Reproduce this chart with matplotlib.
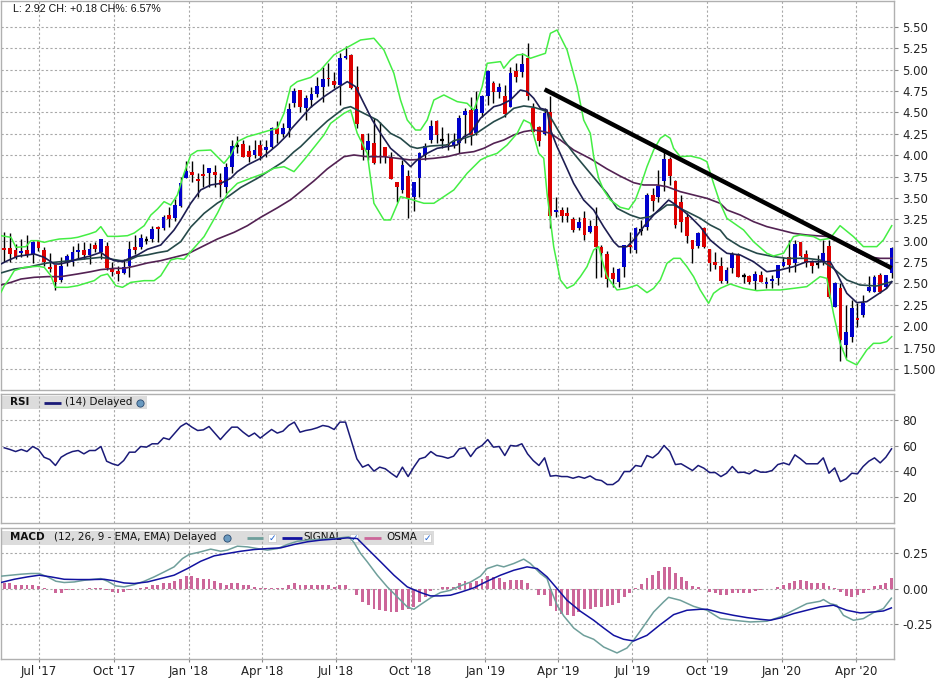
import datetime as dt
import matplotlib
matplotlib.use('Agg')
import matplotlib.pyplot as plt
import matplotlib.dates as mdates
from matplotlib.patches import Rectangle
import numpy as np

# ---------------- data ----------------
first_week = dt.date(2017, 5, 19)
n_weeks = 157

opens = [2.915, 2.915, 2.892, 2.860, 2.892, 2.841, 2.997, 2.892, 2.697, 2.716,
         2.541, 2.755, 2.755, 2.864, 2.892, 2.833, 2.950, 2.872, 2.942, 2.677,
         2.650, 2.626, 2.701, 2.927, 2.923, 3.014, 3.020, 3.157, 3.145, 3.301,
         3.262, 3.410, 3.738, 3.808, 3.722, 3.781, 3.789, 3.808, 3.711, 3.633,
         3.859, 4.112, 4.132, 4.050, 4.003, 4.120, 4.062, 4.101, 4.323, 4.245,
         4.315, 4.607, 4.763, 4.549, 4.646, 4.717, 4.802, 4.900, 4.869, 4.822,
         5.141, 5.173, 4.802, 4.249, 4.062, 4.147, 3.980, 4.100, 3.976, 3.691,
         3.594, 3.757, 3.508, 3.730, 4.003, 4.178, 4.401, 4.178, 4.132, 4.120,
         4.139, 4.471, 4.529, 4.256, 4.490, 4.693, 4.849, 4.744, 4.693, 4.568,
         4.985, 4.970, 5.134, 4.557, 4.334, 4.249, 4.510, 3.340, 3.360, 3.321,
         3.255, 3.145, 3.262, 3.106, 3.173, 2.931, 2.845, 2.627, 2.521, 2.697,
         2.950, 2.892, 3.120, 3.165, 3.535, 3.508, 3.703, 3.956, 3.699, 3.457,
         3.274, 3.009, 2.938, 3.145, 2.903, 2.755, 2.705, 2.529, 2.677, 2.845,
         2.590, 2.592, 2.529, 2.600, 2.494, 2.529, 2.568, 2.705, 2.814, 2.743,
         2.981, 2.845, 2.755, 2.724, 2.755, 2.942, 2.229, 2.443, 1.781, 1.878,
         2.100, 2.132, 2.416, 2.404, 2.599, 2.463, 2.619]
highs = [3.098, 3.090, 2.962, 3.020, 3.067, 3.001, 3.009, 2.923, 2.857, 2.716,
         2.806, 2.845, 2.942, 2.970, 2.981, 2.970, 2.981, 3.020, 2.981, 2.747,
         2.708, 2.786, 3.001, 3.067, 3.079, 3.059, 3.176, 3.176, 3.301, 3.391,
         3.488, 3.750, 3.937, 3.937, 3.789, 3.898, 3.850, 3.886, 3.789, 3.906,
         4.179, 4.225, 4.179, 4.120, 4.179, 4.179, 4.179, 4.335, 4.405, 4.374,
         4.607, 4.783, 4.763, 4.705, 4.802, 4.919, 5.036, 5.075, 4.978, 5.192,
         5.278, 5.180, 5.044, 4.250, 4.256, 4.432, 4.393, 4.100, 4.042, 3.691,
         3.945, 3.828, 3.691, 4.042, 4.147, 4.412, 4.412, 4.327, 4.256, 4.256,
         4.471, 4.549, 4.685, 4.756, 4.705, 4.997, 4.872, 4.841, 4.822, 5.036,
         5.075, 5.192, 5.317, 4.607, 4.340, 4.549, 4.693, 3.516, 3.399, 3.399,
         3.282, 3.282, 3.352, 3.243, 3.391, 2.950, 2.884, 2.689, 2.680, 2.955,
         3.100, 3.165, 3.243, 3.555, 3.613, 3.827, 4.042, 3.980, 3.710, 3.535,
         3.320, 3.010, 3.106, 3.165, 2.905, 2.872, 2.814, 2.690, 2.872, 2.853,
         2.619, 2.595, 2.646, 2.650, 2.580, 2.600, 2.720, 2.814, 3.009, 3.009,
         2.990, 2.892, 2.775, 2.833, 3.009, 3.009, 2.521, 2.510, 2.248, 2.307,
         2.276, 2.365, 2.588, 2.600, 2.619, 2.600, 2.925]
lows = [2.747, 2.747, 2.786, 2.806, 2.806, 2.740, 2.884, 2.708, 2.638, 2.428,
        2.513, 2.701, 2.708, 2.786, 2.786, 2.728, 2.864, 2.786, 2.662, 2.591,
        2.533, 2.611, 2.572, 2.845, 2.903, 2.962, 2.981, 2.981, 3.129, 3.157,
        3.235, 3.400, 3.730, 3.691, 3.516, 3.633, 3.633, 3.633, 3.516, 3.563,
        3.789, 4.030, 3.984, 3.925, 3.964, 3.945, 3.984, 4.081, 4.140, 4.218,
        4.218, 4.569, 4.510, 4.412, 4.568, 4.685, 4.627, 4.814, 4.783, 4.588,
        5.130, 4.780, 4.315, 3.945, 3.945, 3.898, 3.913, 3.906, 3.718, 3.457,
        3.555, 3.262, 3.352, 3.516, 3.945, 4.139, 4.147, 4.081, 4.062, 4.081,
        4.023, 4.139, 4.120, 4.237, 4.451, 4.588, 4.615, 4.666, 4.451, 4.560,
        4.861, 4.911, 4.646, 4.270, 4.108, 4.240, 3.145, 3.282, 3.223, 3.223,
        3.106, 3.126, 3.009, 3.087, 2.560, 2.580, 2.463, 2.463, 2.460, 2.572,
        2.860, 2.853, 3.070, 3.126, 3.348, 3.457, 3.586, 3.652, 3.145, 3.106,
        2.970, 2.743, 2.911, 2.911, 2.650, 2.666, 2.510, 2.510, 2.619, 2.572,
        2.502, 2.494, 2.424, 2.520, 2.444, 2.444, 2.482, 2.690, 2.638, 2.638,
        2.814, 2.697, 2.619, 2.685, 2.716, 2.326, 2.221, 1.597, 1.625, 1.820,
        1.995, 2.104, 2.400, 2.400, 2.385, 2.443, 2.560]
closes = [2.892, 2.845, 2.814, 2.884, 2.833, 2.981, 2.915, 2.755, 2.669, 2.521,
          2.708, 2.818, 2.864, 2.892, 2.833, 2.903, 2.903, 3.020, 2.677, 2.638,
          2.611, 2.697, 2.903, 2.896, 3.028, 3.014, 3.137, 3.137, 3.281, 3.254,
          3.418, 3.680, 3.816, 3.769, 3.703, 3.761, 3.847, 3.769, 3.652, 3.859,
          4.108, 4.112, 3.984, 3.984, 4.062, 3.995, 4.101, 4.315, 4.245, 4.323,
          4.541, 4.756, 4.568, 4.674, 4.717, 4.810, 4.888, 4.888, 4.822, 5.134,
          5.161, 4.783, 4.366, 4.062, 4.167, 3.913, 3.995, 3.976, 3.718, 3.625,
          3.886, 3.496, 3.691, 4.023, 4.108, 4.342, 4.237, 4.178, 4.120, 4.159,
          4.440, 4.522, 4.237, 4.537, 4.693, 4.989, 4.744, 4.802, 4.479, 4.966,
          4.919, 5.067, 4.693, 4.276, 4.171, 4.498, 3.290, 3.360, 3.290, 3.294,
          3.126, 3.223, 3.067, 3.173, 2.931, 2.853, 2.556, 2.549, 2.670, 2.950,
          2.930, 3.145, 3.120, 3.535, 3.469, 3.640, 3.952, 3.761, 3.184, 3.223,
          3.055, 2.900, 3.087, 2.931, 2.736, 2.716, 2.529, 2.658, 2.841, 2.580,
          2.590, 2.521, 2.611, 2.521, 2.521, 2.553, 2.716, 2.755, 2.716, 2.962,
          2.825, 2.736, 2.708, 2.724, 2.853, 2.346, 2.502, 1.839, 1.937, 2.209,
          2.073, 2.276, 2.463, 2.580, 2.397, 2.599, 2.920]

# indicator lines: (week number, value) pairs
bb_upper_w = [0.42, 2.18, 3.05, 4.81, 5.69, 6.86, 8.03, 9.20, 10.67, 12.71, 13.89, 15.94, 17.11,
              17.98, 19.16, 20.91, 22.67, 23.84, 25.60, 26.77, 27.94, 29.10, 30.27, 31.44, 32.61,
              33.79, 34.96, 37.30, 38.47, 39.64, 40.81, 41.98, 43.74, 45.50, 47.84, 49.01, 50.18,
              51.35, 52.52, 54.86, 56.62, 58.96, 61.01, 63.65, 65.99, 67.75, 69.50, 70.67, 71.85,
              73.31, 74.19, 75.36, 76.53, 78.29, 80.63, 82.38, 83.56, 85.02, 85.90, 88.24, 88.82,
              90.00, 91.17, 92.34, 93.51, 95.26, 96.14, 97.02, 98.19, 99.95, 101.71, 102.87,
              104.04, 104.63, 105.51, 106.38, 107.55, 109.31, 110.78, 111.95, 112.82, 114.00,
              115.17, 116.34, 117.22, 118.09, 118.68, 119.85, 121.61, 123.36, 124.53, 125.70,
              126.88, 128.05, 130.98, 132.73, 135.07, 136.24, 138.00, 139.76, 140.93, 143.27,
              144.44, 146.20, 147.95, 150.30, 152.05, 154.40, 155.57, 157.03]
bb_upper_v = [3.059, 3.040, 2.923, 2.931, 3.001, 3.001, 2.981, 3.001, 3.020, 3.028, 3.040, 3.079,
              3.106, 3.165, 3.051, 3.051, 3.059, 3.090, 3.176, 3.300, 3.371, 3.457, 3.418, 3.535,
              3.788, 4.003, 4.053, 4.061, 3.983, 3.905, 4.003, 4.159, 4.217, 4.249, 4.295, 4.315,
              4.490, 4.802, 4.861, 4.910, 4.997, 5.173, 5.251, 5.348, 5.368, 5.231, 4.958, 4.646,
              4.412, 4.295, 4.295, 4.412, 4.646, 4.705, 4.627, 4.607, 4.529, 4.802, 5.075, 5.095,
              5.017, 5.114, 5.173, 5.180, 5.134, 5.173, 5.192, 5.426, 5.465, 5.231, 4.802, 4.412,
              4.256, 3.983, 3.730, 3.593, 3.476, 3.391, 3.367, 3.476, 3.632, 3.866, 4.061, 4.198,
              4.237, 4.198, 4.081, 3.983, 3.991, 3.964, 3.925, 3.671, 3.437, 3.262, 3.126, 2.989,
              2.853, 2.822, 2.853, 3.048, 3.067, 3.048, 3.009, 3.028, 3.176, 3.048, 2.931, 2.931,
              3.009, 3.176]
bb_lower_w = [0.42, 1.01, 1.88, 2.76, 4.52, 6.86, 8.03, 9.20, 9.96, 12.13, 13.89, 16.81, 17.98,
              19.16, 20.62, 21.79, 23.25, 25.60, 27.35, 28.52, 30.27, 31.44, 32.61, 33.79, 36.13,
              38.47, 40.23, 41.98, 44.32, 46.67, 48.42, 50.18, 51.94, 53.69, 56.03, 57.20, 58.38,
              60.72, 61.89, 63.06, 64.82, 65.99, 67.75, 68.92, 70.67, 72.43, 74.77, 76.53, 78.29,
              80.04, 82.38, 84.73, 85.90, 87.65, 89.41, 91.17, 92.34, 93.51, 94.97, 95.85, 96.43,
              97.60, 98.77, 99.94, 101.11, 102.29, 103.46, 104.63, 105.51, 106.09, 106.97, 108.73,
              110.48, 112.24, 114.00, 115.17, 116.34, 117.51, 118.68, 119.85, 121.02, 122.19,
              123.36, 124.83, 125.70, 126.88, 128.63, 130.98, 133.32, 135.07, 137.42, 139.76,
              142.10, 144.44, 145.61, 146.78, 147.95, 149.13, 150.88, 152.64, 153.81, 154.98,
              156.15, 157.03]
bb_lower_v = [2.396, 2.474, 2.552, 2.650, 2.689, 2.701, 2.689, 2.591, 2.455, 2.455, 2.474, 2.533,
              2.591, 2.611, 2.474, 2.455, 2.513, 2.533, 2.533, 2.591, 2.775, 2.794, 2.783, 2.872,
              3.048, 3.321, 3.555, 3.671, 3.730, 3.788, 3.847, 3.866, 3.808, 3.944, 4.139, 4.237,
              4.373, 4.490, 4.529, 4.256, 4.022, 3.438, 3.243, 3.243, 3.516, 3.485, 3.438, 3.438,
              3.516, 3.594, 3.789, 3.945, 3.983, 4.022, 4.120, 4.256, 4.412, 4.373, 4.022, 3.964,
              3.554, 2.930, 2.541, 2.443, 2.482, 2.580, 2.697, 2.892, 2.930, 2.775, 2.580, 2.424,
              2.443, 2.482, 2.393, 2.443, 2.541, 2.736, 2.794, 2.794, 2.697, 2.580, 2.424, 2.268,
              2.385, 2.443, 2.494, 2.443, 2.416, 2.424, 2.424, 2.443, 2.463, 2.580, 2.560, 2.151,
              1.800, 1.605, 1.547, 1.722, 1.800, 1.800, 1.820, 1.878]
ma_fast_w = [0.42, 1.59, 3.35, 6.27, 8.03, 9.79, 10.67, 12.13, 13.89, 15.94, 17.98, 19.16, 20.33,
             21.79, 22.96, 24.42, 26.18, 28.52, 30.86, 32.03, 33.79, 35.54, 37.30, 39.05, 40.81,
             41.98, 43.74, 46.08, 47.25, 49.01, 50.76, 51.35, 53.11, 54.87, 57.21, 58.96, 61.31,
             62.77, 64.23, 65.70, 67.16, 68.92, 70.67, 72.43, 73.60, 75.36, 77.11, 78.87, 80.63,
             81.80, 82.97, 84.73, 87.07, 88.24, 90.00, 91.75, 92.92, 94.09, 95.26, 96.43, 97.02,
             98.19, 99.36, 101.11, 102.87, 104.63, 106.38, 108.14, 109.02, 110.48, 111.65, 113.41,
             115.17, 116.92, 117.80, 118.68, 119.85, 121.61, 123.36, 125.12, 126.88, 128.05,
             130.39, 132.73, 135.07, 137.42, 139.76, 142.10, 144.44, 146.20, 147.37, 149.13,
             150.88, 152.64, 154.40, 156.15, 157.03]
ma_fast_v = [2.728, 2.767, 2.818, 2.845, 2.806, 2.728, 2.728, 2.747, 2.786, 2.818, 2.864, 2.806,
             2.767, 2.755, 2.794, 2.833, 2.900, 2.950, 3.126, 3.243, 3.438, 3.594, 3.652, 3.671,
             3.730, 3.808, 3.886, 3.964, 4.022, 4.120, 4.237, 4.300, 4.430, 4.560, 4.685, 4.763,
             4.861, 4.802, 4.607, 4.412, 4.256, 4.081, 3.983, 3.867, 3.945, 4.023, 4.081, 4.101,
             4.120, 4.218, 4.256, 4.432, 4.568, 4.588, 4.646, 4.763, 4.744, 4.666, 4.549, 4.529,
             4.300, 4.100, 3.930, 3.671, 3.476, 3.359, 3.164, 2.989, 2.930, 2.930, 3.008, 3.164,
             3.301, 3.418, 3.476, 3.437, 3.379, 3.281, 3.164, 3.008, 2.911, 2.853, 2.833, 2.755,
             2.638, 2.658, 2.697, 2.755, 2.755, 2.755, 2.619, 2.385, 2.276, 2.287, 2.365, 2.443,
             2.521]
ma_mid_w = [0.42, 2.76, 5.10, 6.86, 8.62, 10.96, 15.06, 17.98, 19.74, 21.50, 22.67, 24.42, 26.18,
            27.94, 29.69, 32.03, 33.79, 36.13, 38.47, 40.23, 42.57, 45.50, 47.84, 50.18, 51.94,
            53.11, 55.45, 57.79, 60.72, 61.89, 64.23, 66.58, 68.92, 70.67, 72.43, 73.60, 75.94,
            78.87, 80.04, 81.80, 83.56, 85.31, 87.07, 88.82, 90.58, 92.34, 94.09, 95.26, 96.43,
            97.61, 99.36, 101.11, 104.04, 106.97, 108.73, 111.07, 112.82, 114.58, 116.34, 117.51,
            118.68, 121.02, 123.36, 125.12, 126.88, 128.05, 130.39, 133.32, 136.24, 138.59,
            142.10, 144.44, 146.78, 149.13, 151.47, 154.40, 157.03]
ma_mid_v = [2.623, 2.669, 2.689, 2.716, 2.740, 2.755, 2.786, 2.806, 2.786, 2.767, 2.767, 2.818,
            2.835, 2.860, 2.880, 2.989, 3.160, 3.320, 3.440, 3.510, 3.623, 3.730, 3.830, 3.930,
            4.040, 4.101, 4.256, 4.400, 4.549, 4.568, 4.490, 4.412, 4.256, 4.198, 4.101, 4.081,
            4.108, 4.120, 4.171, 4.198, 4.237, 4.315, 4.393, 4.451, 4.549, 4.576, 4.561, 4.537,
            4.510, 4.380, 4.178, 4.022, 3.788, 3.554, 3.379, 3.301, 3.262, 3.281, 3.359, 3.418,
            3.418, 3.340, 3.262, 3.184, 3.125, 3.028, 2.931, 2.853, 2.814, 2.794, 2.794, 2.775,
            2.677, 2.541, 2.482, 2.471, 2.521]
ma_slow_w = [0.42, 2.18, 3.93, 6.27, 8.62, 10.96, 13.89, 16.23, 17.98, 20.33, 22.08, 23.84, 26.18,
             28.52, 30.86, 33.21, 35.55, 38.48, 41.40, 43.75, 46.09, 49.02, 51.36, 53.11, 55.45,
             57.79, 60.72, 62.48, 64.82, 67.75, 70.09, 72.43, 74.19, 76.53, 78.87, 81.21, 83.56,
             85.31, 87.07, 88.82, 90.58, 92.34, 94.09, 95.85, 97.02, 98.77, 101.11, 104.04, 106.97,
             109.31, 111.65, 113.41, 115.75, 117.51, 119.85, 122.19, 124.53, 126.88, 128.05,
             130.39, 132.73, 135.07, 137.42, 139.76, 142.10, 144.44, 146.20, 147.95, 150.30,
             152.64, 154.98, 157.03]
ma_slow_v = [2.482, 2.513, 2.552, 2.572, 2.580, 2.580, 2.611, 2.638, 2.662, 2.677, 2.677, 2.701,
             2.740, 2.767, 2.806, 2.845, 2.923, 3.020, 3.098, 3.176, 3.274, 3.385, 3.480, 3.574,
             3.700, 3.840, 3.983, 4.003, 3.983, 3.983, 3.964, 3.945, 3.952, 3.964, 3.983, 4.022,
             4.042, 4.081, 4.140, 4.178, 4.237, 4.276, 4.295, 4.276, 4.256, 4.178, 4.061, 3.960,
             3.840, 3.755, 3.679, 3.652, 3.652, 3.632, 3.574, 3.535, 3.496, 3.437, 3.360, 3.301,
             3.223, 3.165, 3.126, 3.087, 3.067, 3.055, 3.048, 2.989, 2.892, 2.814, 2.794, 2.794]

trend_weeks = [96, 157]
trend_prices = [4.77, 2.68]

rsi = [58.3, 57.0, 55.4, 57.0, 55.4, 59.3, 57.0, 51.0, 49.2, 44.6,
       51.0, 53.6, 55.4, 56.2, 53.6, 56.2, 56.2, 59.3, 47.9, 45.9,
       44.6, 48.4, 54.9, 54.9, 59.3, 58.8, 61.4, 61.4, 66.0, 64.7,
       69.7, 74.8, 77.4, 74.3, 71.7, 72.2, 74.8, 69.7, 64.7, 69.7,
       74.3, 74.3, 70.4, 67.1, 69.7, 65.8, 69.1, 72.5, 69.7, 71.2,
       75.6, 78.2, 70.4, 71.7, 72.5, 73.8, 75.6, 74.8, 72.5, 78.2,
       78.2, 64.0, 49.7, 43.3, 45.3, 40.2, 43.3, 42.0, 38.6, 35.5,
       43.3, 36.0, 43.3, 49.7, 51.0, 55.4, 52.3, 51.5, 50.2, 51.8,
       57.5, 58.3, 51.5, 57.5, 60.1, 64.7, 58.8, 59.3, 52.3, 60.1,
       59.6, 61.4, 53.6, 48.4, 44.6, 50.5, 36.3, 36.8, 36.0, 36.0,
       34.7, 36.0, 34.7, 36.5, 33.7, 32.9, 29.8, 29.8, 32.9, 39.9,
       39.9, 44.6, 43.8, 52.3, 50.5, 54.1, 60.1, 55.4, 45.3, 45.9,
       43.3, 40.7, 44.6, 42.5, 39.1, 39.1, 36.0, 38.6, 43.8, 39.1,
       39.4, 38.1, 41.2, 39.4, 39.4, 40.7, 45.3, 46.6, 45.1, 52.8,
       49.7, 45.9, 45.9, 45.9, 50.5, 38.6, 42.7, 32.1, 34.2, 38.6,
       38.1, 43.8, 47.9, 50.5, 46.6, 51.0, 57.5]

macd_w = [0.42, 2.18, 3.93, 5.69, 7.15, 8.62, 10.08, 11.54, 13.30, 15.06, 16.81, 17.98, 19.16,
          20.62, 22.08, 23.84, 25.60, 27.35, 29.11, 30.86, 32.33, 33.50, 35.55, 37.30, 39.06,
          40.23, 41.99, 43.75, 45.50, 47.26, 49.02, 50.77, 52.53, 54.28, 56.63, 58.97, 60.72,
          61.60, 62.48, 63.65, 64.82, 66.58, 68.34, 70.09, 71.85, 73.02, 74.19, 75.95, 77.70,
          79.46, 81.22, 82.97, 84.72, 85.89, 87.65, 88.82, 90.58, 92.33, 93.50, 95.26, 96.43,
          97.02, 98.19, 99.36, 101.12, 102.87, 104.63, 106.39, 108.73, 110.48, 111.65, 113.12,
          115.17, 116.92, 117.80, 119.85, 122.19, 124.54, 126.88, 129.22, 132.15, 135.08,
          137.42, 139.76, 142.10, 144.44, 145.03, 146.20, 147.37, 148.54, 150.30, 152.05,
          153.81, 155.57, 156.97]
macd_v = [0.088, 0.095, 0.102, 0.107, 0.107, 0.083, 0.052, 0.043, 0.047, 0.059, 0.066, 0.071,
          0.052, 0.019, 0.012, 0.028, 0.052, 0.083, 0.118, 0.154, 0.213, 0.242, 0.261, 0.280,
          0.265, 0.273, 0.301, 0.296, 0.284, 0.273, 0.284, 0.313, 0.336, 0.344, 0.351, 0.355,
          0.363, 0.367, 0.327, 0.249, 0.190, 0.095, 0.012, -0.059, -0.130, -0.147, -0.114,
          -0.066, -0.028, -0.012, 0.020, 0.046, 0.088, 0.142, 0.166, 0.154, 0.178, 0.209, 0.178,
          0.107, 0.071, 0.000, -0.118, -0.194, -0.280, -0.332, -0.360, -0.415, -0.457, -0.422,
          -0.367, -0.284, -0.166, -0.095, -0.062, -0.083, -0.126, -0.154, -0.213, -0.225, -0.237,
          -0.232, -0.201, -0.154, -0.107, -0.090, -0.078, -0.107, -0.118, -0.190, -0.225, -0.213,
          -0.171, -0.142, -0.068]
signal_w = [0.42, 2.76, 5.10, 7.15, 9.20, 11.54, 13.89, 16.23, 18.57, 20.33, 22.08, 23.84, 26.18,
            28.52, 30.86, 33.21, 35.55, 37.89, 40.23, 42.57, 44.92, 47.26, 49.60, 51.94, 54.28,
            56.63, 58.97, 61.31, 63.07, 64.82, 67.17, 69.51, 71.85, 74.19, 75.95, 77.70, 79.46,
            81.22, 83.55, 85.89, 88.24, 90.58, 92.92, 94.68, 96.43, 98.19, 99.94, 102.29, 104.63,
            106.39, 108.14, 109.90, 111.65, 114.00, 116.34, 118.68, 121.02, 123.37, 124.54,
            126.88, 129.22, 131.56, 133.90, 135.66, 137.42, 139.76, 142.10, 144.44, 146.78,
            149.13, 151.47, 153.81, 155.57, 156.97]
signal_v = [0.043, 0.066, 0.083, 0.095, 0.083, 0.066, 0.064, 0.064, 0.066, 0.055, 0.040, 0.036,
            0.047, 0.071, 0.095, 0.142, 0.194, 0.232, 0.249, 0.265, 0.277, 0.284, 0.289, 0.313,
            0.332, 0.344, 0.351, 0.360, 0.355, 0.284, 0.190, 0.095, 0.012, -0.028, -0.052, -0.052,
            -0.047, -0.026, 0.005, 0.052, 0.095, 0.130, 0.154, 0.142, 0.083, 0.000, -0.083, -0.161,
            -0.225, -0.280, -0.332, -0.360, -0.372, -0.332, -0.256, -0.185, -0.154, -0.147,
            -0.147, -0.171, -0.190, -0.206, -0.218, -0.225, -0.209, -0.178, -0.154, -0.130,
            -0.118, -0.154, -0.173, -0.166, -0.159, -0.137]
osma = [0.040, 0.036, 0.024, 0.024, 0.024, 0.028, 0.019, 0.005, -0.005, -0.028,
        -0.028, -0.012, -0.007, -0.002, 0.000, 0.002, 0.005, 0.007, -0.007, -0.024,
        -0.031, -0.024, -0.012, -0.005, 0.005, 0.009, 0.024, 0.028, 0.036, 0.040,
        0.052, 0.066, 0.090, 0.088, 0.076, 0.066, 0.066, 0.052, 0.036, 0.024,
        0.040, 0.040, 0.028, 0.024, 0.014, 0.005, 0.002, 0.002, 0.002, 0.005,
        0.024, 0.040, 0.028, 0.028, 0.024, 0.024, 0.028, 0.024, 0.012, 0.028,
        0.028, 0.000, -0.043, -0.095, -0.118, -0.142, -0.149, -0.161, -0.166, -0.166,
        -0.154, -0.147, -0.130, -0.095, -0.059, -0.019, 0.000, 0.009, 0.009, 0.014,
        0.036, 0.055, 0.040, 0.052, 0.066, 0.090, 0.083, 0.076, 0.047, 0.059,
        0.059, 0.059, 0.040, 0.000, -0.043, -0.043, -0.123, -0.161, -0.178, -0.185,
        -0.194, -0.166, -0.147, -0.142, -0.130, -0.130, -0.126, -0.118, -0.100, -0.059,
        -0.028, 0.005, 0.033, 0.076, 0.095, 0.123, 0.154, 0.154, 0.111, 0.083,
        0.052, 0.019, 0.012, 0.000, -0.024, -0.028, -0.043, -0.043, -0.028, -0.028,
        -0.028, -0.028, -0.019, -0.012, -0.005, 0.000, 0.009, 0.024, 0.036, 0.052,
        0.059, 0.052, 0.043, 0.036, 0.043, 0.019, 0.005, -0.024, -0.055, -0.059,
        -0.047, -0.028, -0.007, 0.017, 0.024, 0.040, 0.076]

price_ticks = [1.50, 1.75, 2.00, 2.25, 2.50, 2.75, 3.00, 3.25, 3.50, 3.75,
               4.00, 4.25, 4.50, 4.75, 5.00, 5.25, 5.50]
price_labels = ['1.500', '1.750', '2.00', '2.25', '2.50', '2.75', '3.00', '3.25', '3.50',
                '3.75', '4.00', '4.25', '4.50', '4.75', '5.00', '5.25', '5.50']
rsi_ticks = [20, 40, 60, 80]
macd_ticks = [-0.25, 0.0, 0.25]
macd_labels = ['-0.25', '0.00', '0.25']
quarter_starts = [dt.date(2017, 7, 1), dt.date(2017, 10, 1), dt.date(2018, 1, 1),
                  dt.date(2018, 4, 1), dt.date(2018, 7, 1), dt.date(2018, 10, 1),
                  dt.date(2019, 1, 1), dt.date(2019, 4, 1), dt.date(2019, 7, 1),
                  dt.date(2019, 10, 1), dt.date(2020, 1, 1), dt.date(2020, 4, 1)]
quarter_labels = ["Jul '17", "Oct '17", "Jan '18", "Apr '18", "Jul '18", "Oct '18",
                  "Jan '19", "Apr '19", "Jul '19", "Oct '19", "Jan '20", "Apr '20"]
header_text = 'L: 2.92 CH: +0.18 CH%: 6.57%'

# ---------------- styling ----------------
UP = '#0000cc'
DOWN = '#dd0000'
BB_COL = '#44ee44'
FAST_COL = '#1e1e52'
MID_COL = '#264a4a'
SLOW_COL = '#532253'
RSI_COL = '#1a1a78'
MACD_COL = '#6f9f9b'
SIG_COL = '#1212a0'
OSMA_COL = '#cc6699'
SPINE = '#b0b0b0'
GRID = '#a8a8a8'

W, H = 940, 684
fig = plt.figure(figsize=(W / 100, H / 100), dpi=100)
fig.patch.set_facecolor('white')

boxes = {'p': (1, 1, 894, 390), 'r': (1, 394, 894, 523), 'm': (1, 528, 894, 659)}


def rect(b):
    x0, y0, x1, y1 = b
    return [x0 / W, 1 - y1 / H, (x1 - x0) / W, (y1 - y0) / H]


ax_p = fig.add_axes(rect(boxes['p']))
ax_r = fig.add_axes(rect(boxes['r']), sharex=ax_p)
ax_m = fig.add_axes(rect(boxes['m']), sharex=ax_p)

x_first = mdates.date2num(first_week)
x = x_first + 7.0 * np.arange(n_weeks)


def wx(weeks):
    return x_first + 7.0 * (np.asarray(weeks, dtype=float) - 1.0)


# candles
o = np.array(opens); h = np.array(highs); l = np.array(lows); c = np.array(closes)
ax_p.vlines(x, l, h, color='black', lw=1.0, zorder=2)
body_w = 4.6
for xi, oi, ci in zip(x, o, c):
    if abs(ci - oi) < 0.004:
        ax_p.hlines((oi + ci) / 2, xi - body_w / 2, xi + body_w / 2, color='black', lw=1.6, zorder=3)
    else:
        col = UP if ci > oi else DOWN
        ax_p.bar(xi, abs(ci - oi), bottom=min(oi, ci), width=body_w, color=col,
                 edgecolor='none', zorder=3)

# indicator lines
ax_p.plot(wx(ma_slow_w), ma_slow_v, color=SLOW_COL, lw=1.2, zorder=4)
ax_p.plot(wx(ma_mid_w), ma_mid_v, color=MID_COL, lw=1.2, zorder=4)
ax_p.plot(wx(ma_fast_w), ma_fast_v, color=FAST_COL, lw=1.2, zorder=4)
ax_p.plot(wx(bb_upper_w), bb_upper_v, color=BB_COL, lw=1.1, zorder=4)
ax_p.plot(wx(bb_lower_w), bb_lower_v, color=BB_COL, lw=1.1, zorder=4)
ax_p.plot(wx(trend_weeks), trend_prices, color='black', lw=3.2, solid_capstyle='butt', zorder=5)

# RSI
ax_r.plot(x, rsi, color=RSI_COL, lw=1.1, zorder=3)

# MACD
ax_m.bar(x, osma, width=3.6, color=OSMA_COL, edgecolor='none', zorder=2)
ax_m.plot(wx(macd_w), macd_v, color=MACD_COL, lw=1.1, zorder=3)
ax_m.plot(wx(signal_w), signal_v, color=SIG_COL, lw=1.1, zorder=3)

# axes formatting
xlim = (mdates.date2num(dt.date(2017, 5, 15)), mdates.date2num(dt.date(2020, 5, 18)))
qx = mdates.date2num(quarter_starts)
for ax in (ax_p, ax_r, ax_m):
    ax.set_xlim(*xlim)
    ax.set_facecolor('white')
    ax.set_axisbelow(True)
    for s in ax.spines.values():
        s.set_color(SPINE)
        s.set_linewidth(1.0)
    ax.yaxis.tick_right()
    ax.set_xticks(qx)
    ax.grid(True, color=GRID, linestyle=(0, (2, 2)), lw=0.8)
    ax.tick_params(axis='y', which='both', length=3, color='#888888', width=0.8,
                   labelsize=8.5, pad=3, labelcolor='#222222')

ax_p.set_ylim(1.254, 5.804)
ax_p.set_yticks(price_ticks)
ax_p.set_yticklabels(price_labels)
ax_r.set_ylim(0, 100)
ax_r.set_yticks(rsi_ticks)
ax_m.set_ylim(-0.50, 0.43)
ax_m.set_yticks(macd_ticks)
ax_m.set_yticklabels(macd_labels)

for ax in (ax_p, ax_r):
    ax.tick_params(axis='x', length=0, labelbottom=False)
ax_m.set_xticklabels(quarter_labels)
ax_m.tick_params(axis='x', length=2.5, color='#888888', labelsize=8.5, pad=2,
                 labelcolor='#222222')

# header
fig.text(13 / W, 1 - 9.5 / H, header_text, fontsize=7.7, family=['Liberation Sans', 'DejaVu Sans'],
         color='#111111', va='center', ha='left')


# legends (pixel helpers)
def to_ax(ax, key, px, py):
    x0, y0, x1, y1 = boxes[key]
    return (px - x0) / (x1 - x0), (y1 - py) / (y1 - y0)


def legend_box(ax, key, px0, py0, px1, py1):
    a0 = to_ax(ax, key, px0, py1)
    a1 = to_ax(ax, key, px1, py0)
    ax.add_patch(Rectangle(a0, a1[0] - a0[0], a1[1] - a0[1], transform=ax.transAxes,
                           facecolor='#dcdcdc', edgecolor='none', zorder=0.3))


def ltext(ax, key, px, py, s, bold=False, size=7.5):
    ax.text(*to_ax(ax, key, px, py), s, transform=ax.transAxes, fontsize=size,
            fontweight='bold' if bold else 'normal', va='center', ha='left',
            color='#111111', zorder=0.6)


def lline(ax, key, px0, px1, py, col, lw=2.0):
    a0 = to_ax(ax, key, px0, py)
    a1 = to_ax(ax, key, px1, py)
    ax.plot([a0[0], a1[0]], [a0[1], a1[1]], transform=ax.transAxes, color=col, lw=lw,
            zorder=0.6, solid_capstyle='butt')


def globe(ax, key, px, py):
    ax.plot(*to_ax(ax, key, px, py), 'o', transform=ax.transAxes, ms=5.2,
            color='#6a9ac0', mec='#2a4a70', mew=0.6, zorder=0.7)


def check(ax, key, px, py):
    a0 = to_ax(ax, key, px - 4, py + 4)
    a1 = to_ax(ax, key, px + 4, py - 4)
    ax.add_patch(Rectangle(a0, a1[0] - a0[0], a1[1] - a0[1], transform=ax.transAxes,
                           facecolor='white', edgecolor='#c8c8c8', lw=0.5, zorder=0.5))
    ax.text(*to_ax(ax, key, px, py + 0.5), '\u2713', transform=ax.transAxes, fontsize=6.5,
            color='#1a5fd0', ha='center', va='center', fontweight='bold', zorder=0.7)


legend_box(ax_r, 'r', 2, 396, 147, 409.5)
ltext(ax_r, 'r', 10, 402.5, 'RSI', bold=True)
lline(ax_r, 'r', 44, 61, 402.5, RSI_COL)
ltext(ax_r, 'r', 65, 402.5, '(14) Delayed')
globe(ax_r, 'r', 140, 402.5)

legend_box(ax_m, 'm', 2, 531, 434, 544.5)
ltext(ax_m, 'm', 10, 537.5, 'MACD', bold=True)
ltext(ax_m, 'm', 54, 537.5, '(12, 26, 9 - EMA, EMA) Delayed')
globe(ax_m, 'm', 227, 537.5)
lline(ax_m, 'm', 247, 263, 537.5, MACD_COL)
check(ax_m, 'm', 272, 538)
lline(ax_m, 'm', 282, 302, 537.5, SIG_COL)
ltext(ax_m, 'm', 303, 537.5, 'SIGNAL')
check(ax_m, 'm', 354, 538)
lline(ax_m, 'm', 364, 381, 537.5, OSMA_COL)
ltext(ax_m, 'm', 386, 537.5, 'OSMA')
check(ax_m, 'm', 427, 538)

fig.savefig('out.png', dpi=100, facecolor='white')
